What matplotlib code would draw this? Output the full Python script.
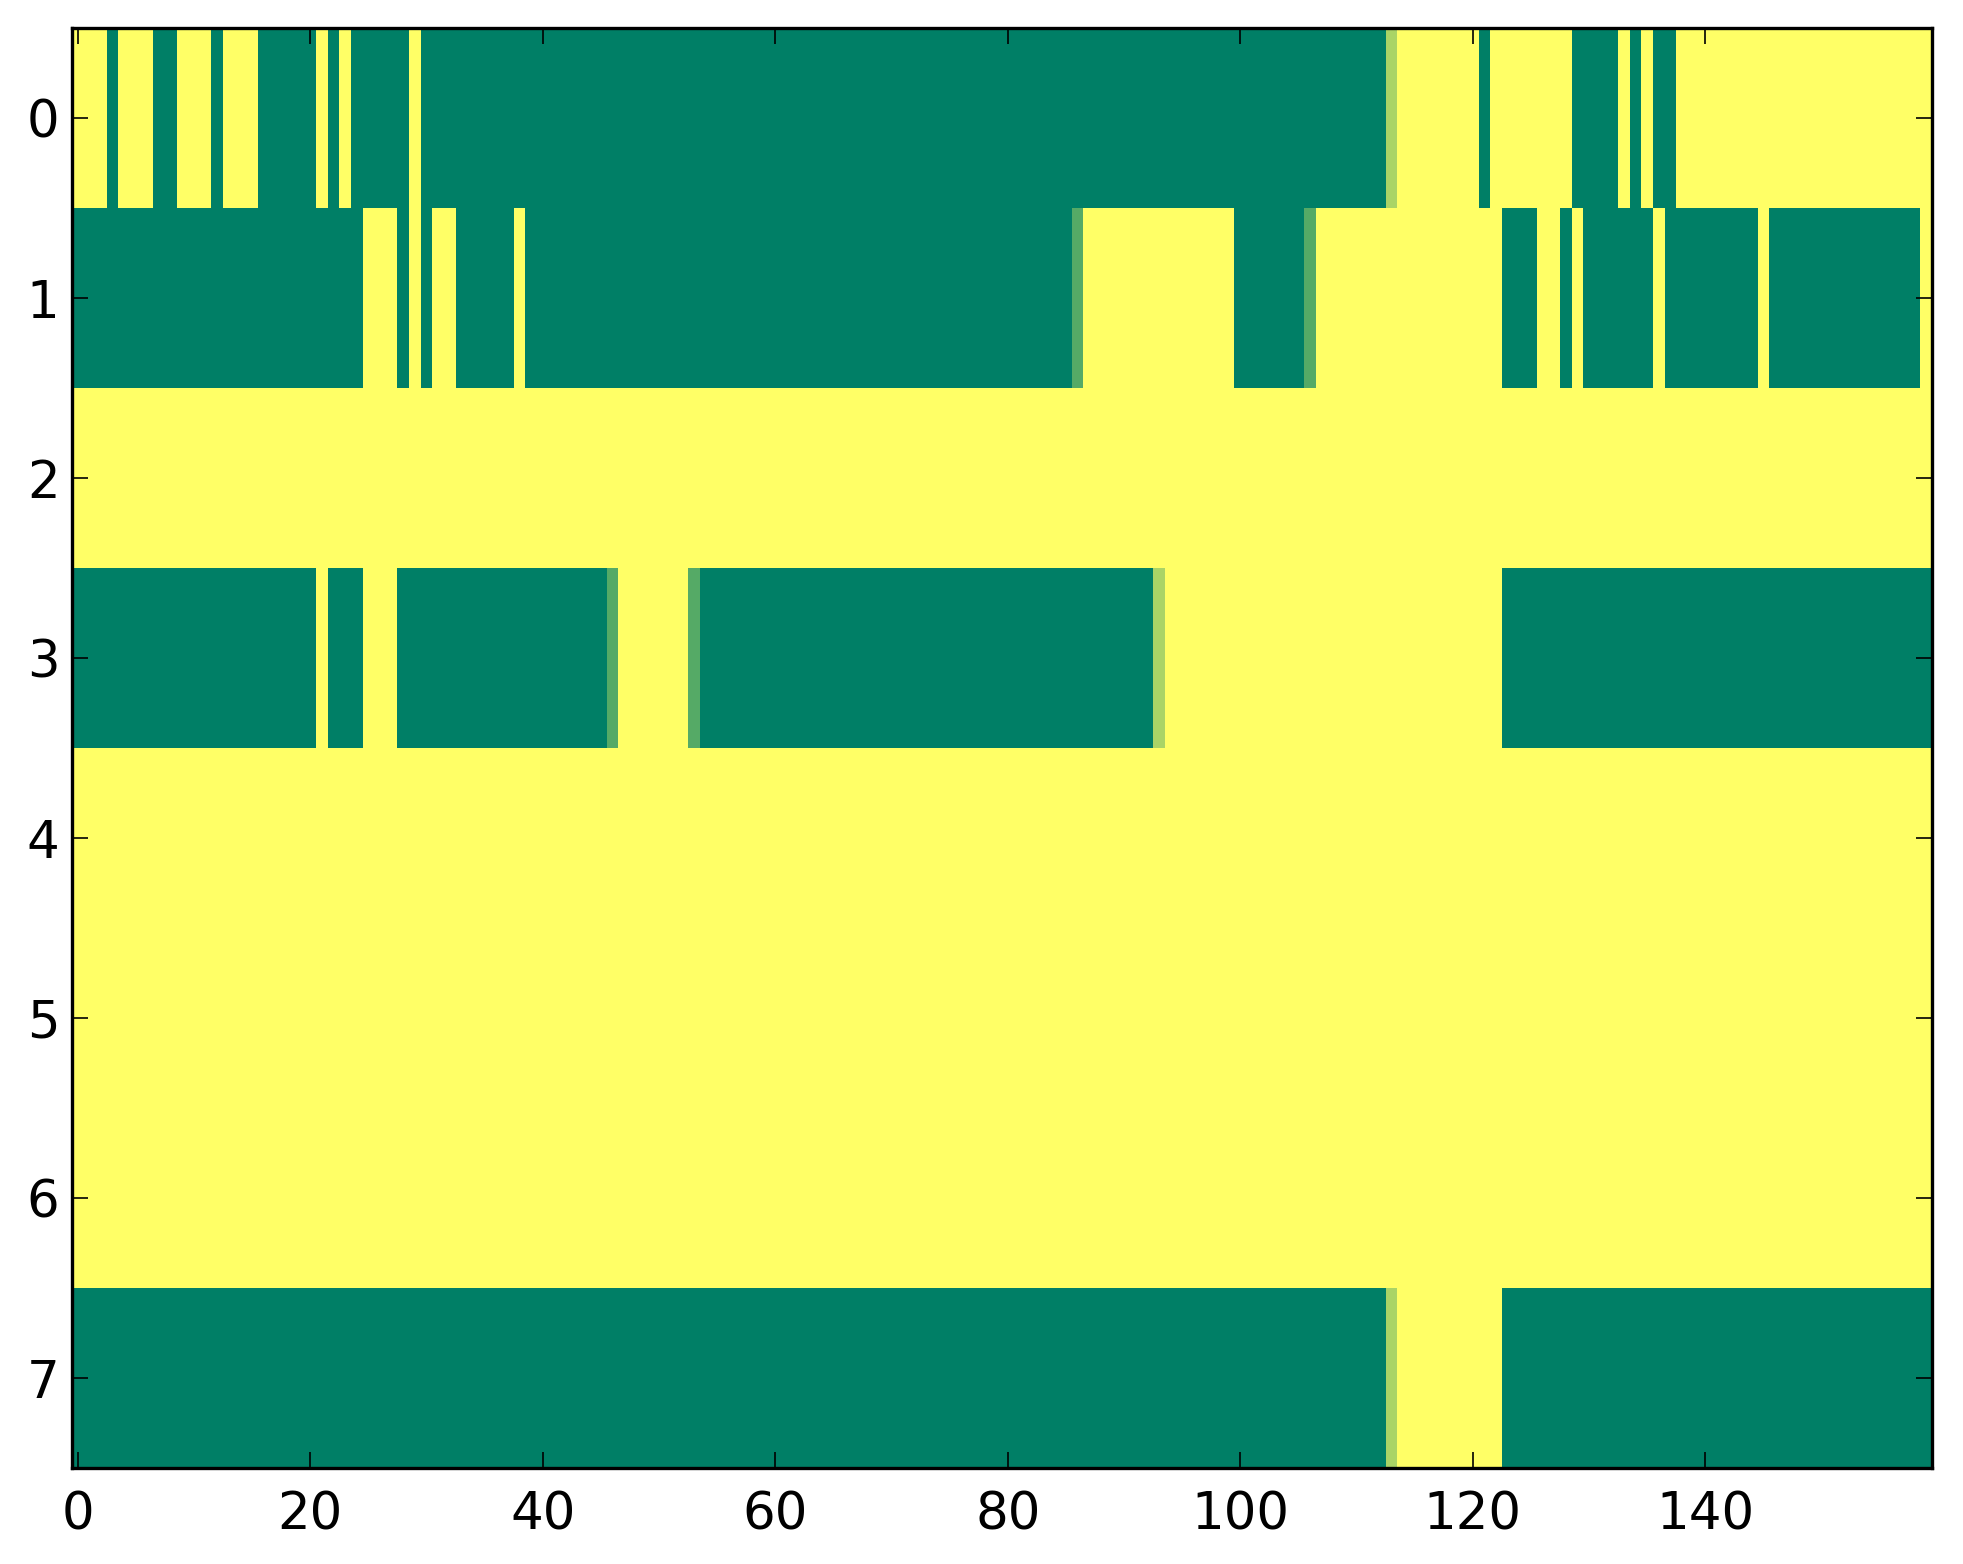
import numpy as np
import matplotlib
matplotlib.use("Agg")
import matplotlib.pyplot as plt

n_cols = 160
n_rows = 8

# Runs per row: (start_col, end_col_inclusive, value); default value = 1 (yellow)
row0_runs = [(3, 3, 0), (7, 8, 0), (12, 12, 0), (16, 20, 0), (22, 22, 0),
             (24, 28, 0), (30, 112, 0), (113, 113, 0.667), (121, 121, 0),
             (129, 132, 0), (134, 134, 0), (136, 137, 0)]
row1_runs = [(0, 24, 0), (28, 28, 0), (30, 30, 0), (33, 37, 0), (39, 85, 0),
             (86, 86, 0.333), (100, 105, 0), (106, 106, 0.333),
             (123, 125, 0), (128, 128, 0), (130, 135, 0), (137, 144, 0),
             (146, 158, 0)]
row2_runs = []
row3_runs = [(0, 20, 0), (22, 24, 0), (28, 45, 0), (46, 46, 0.333),
             (53, 53, 0.333), (54, 92, 0), (93, 93, 0.667), (123, 159, 0)]
row4_runs = []
row5_runs = []
row6_runs = []
row7_runs = [(0, 112, 0), (113, 113, 0.667), (123, 159, 0)]

all_runs = [row0_runs, row1_runs, row2_runs, row3_runs,
            row4_runs, row5_runs, row6_runs, row7_runs]

data = np.ones((n_rows, n_cols))
for r, runs in enumerate(all_runs):
    for s, e, v in runs:
        data[r, s:e + 1] = v

W, H, dpi = 1963, 1564, 200
fig = plt.figure(figsize=(W / dpi, H / dpi), dpi=dpi)
ax = fig.add_axes([72 / W, 1 - 1468 / H, (1932 - 72) / W, (1468 - 28) / H])
ax.imshow(data, cmap="summer", aspect="auto", interpolation="nearest",
          vmin=0, vmax=1)

ax.set_xticks(np.arange(0, 160, 20))
ax.set_yticks(np.arange(0, 8, 1))
ax.tick_params(direction="in", length=5.8, width=0.6, top=True, right=True,
               labelsize=18.5)
ax.tick_params(axis="x", pad=8)
ax.tick_params(axis="y", pad=4.5)
for sp in ax.spines.values():
    sp.set_linewidth(1.2)

fig.savefig("out.png", dpi=dpi)
